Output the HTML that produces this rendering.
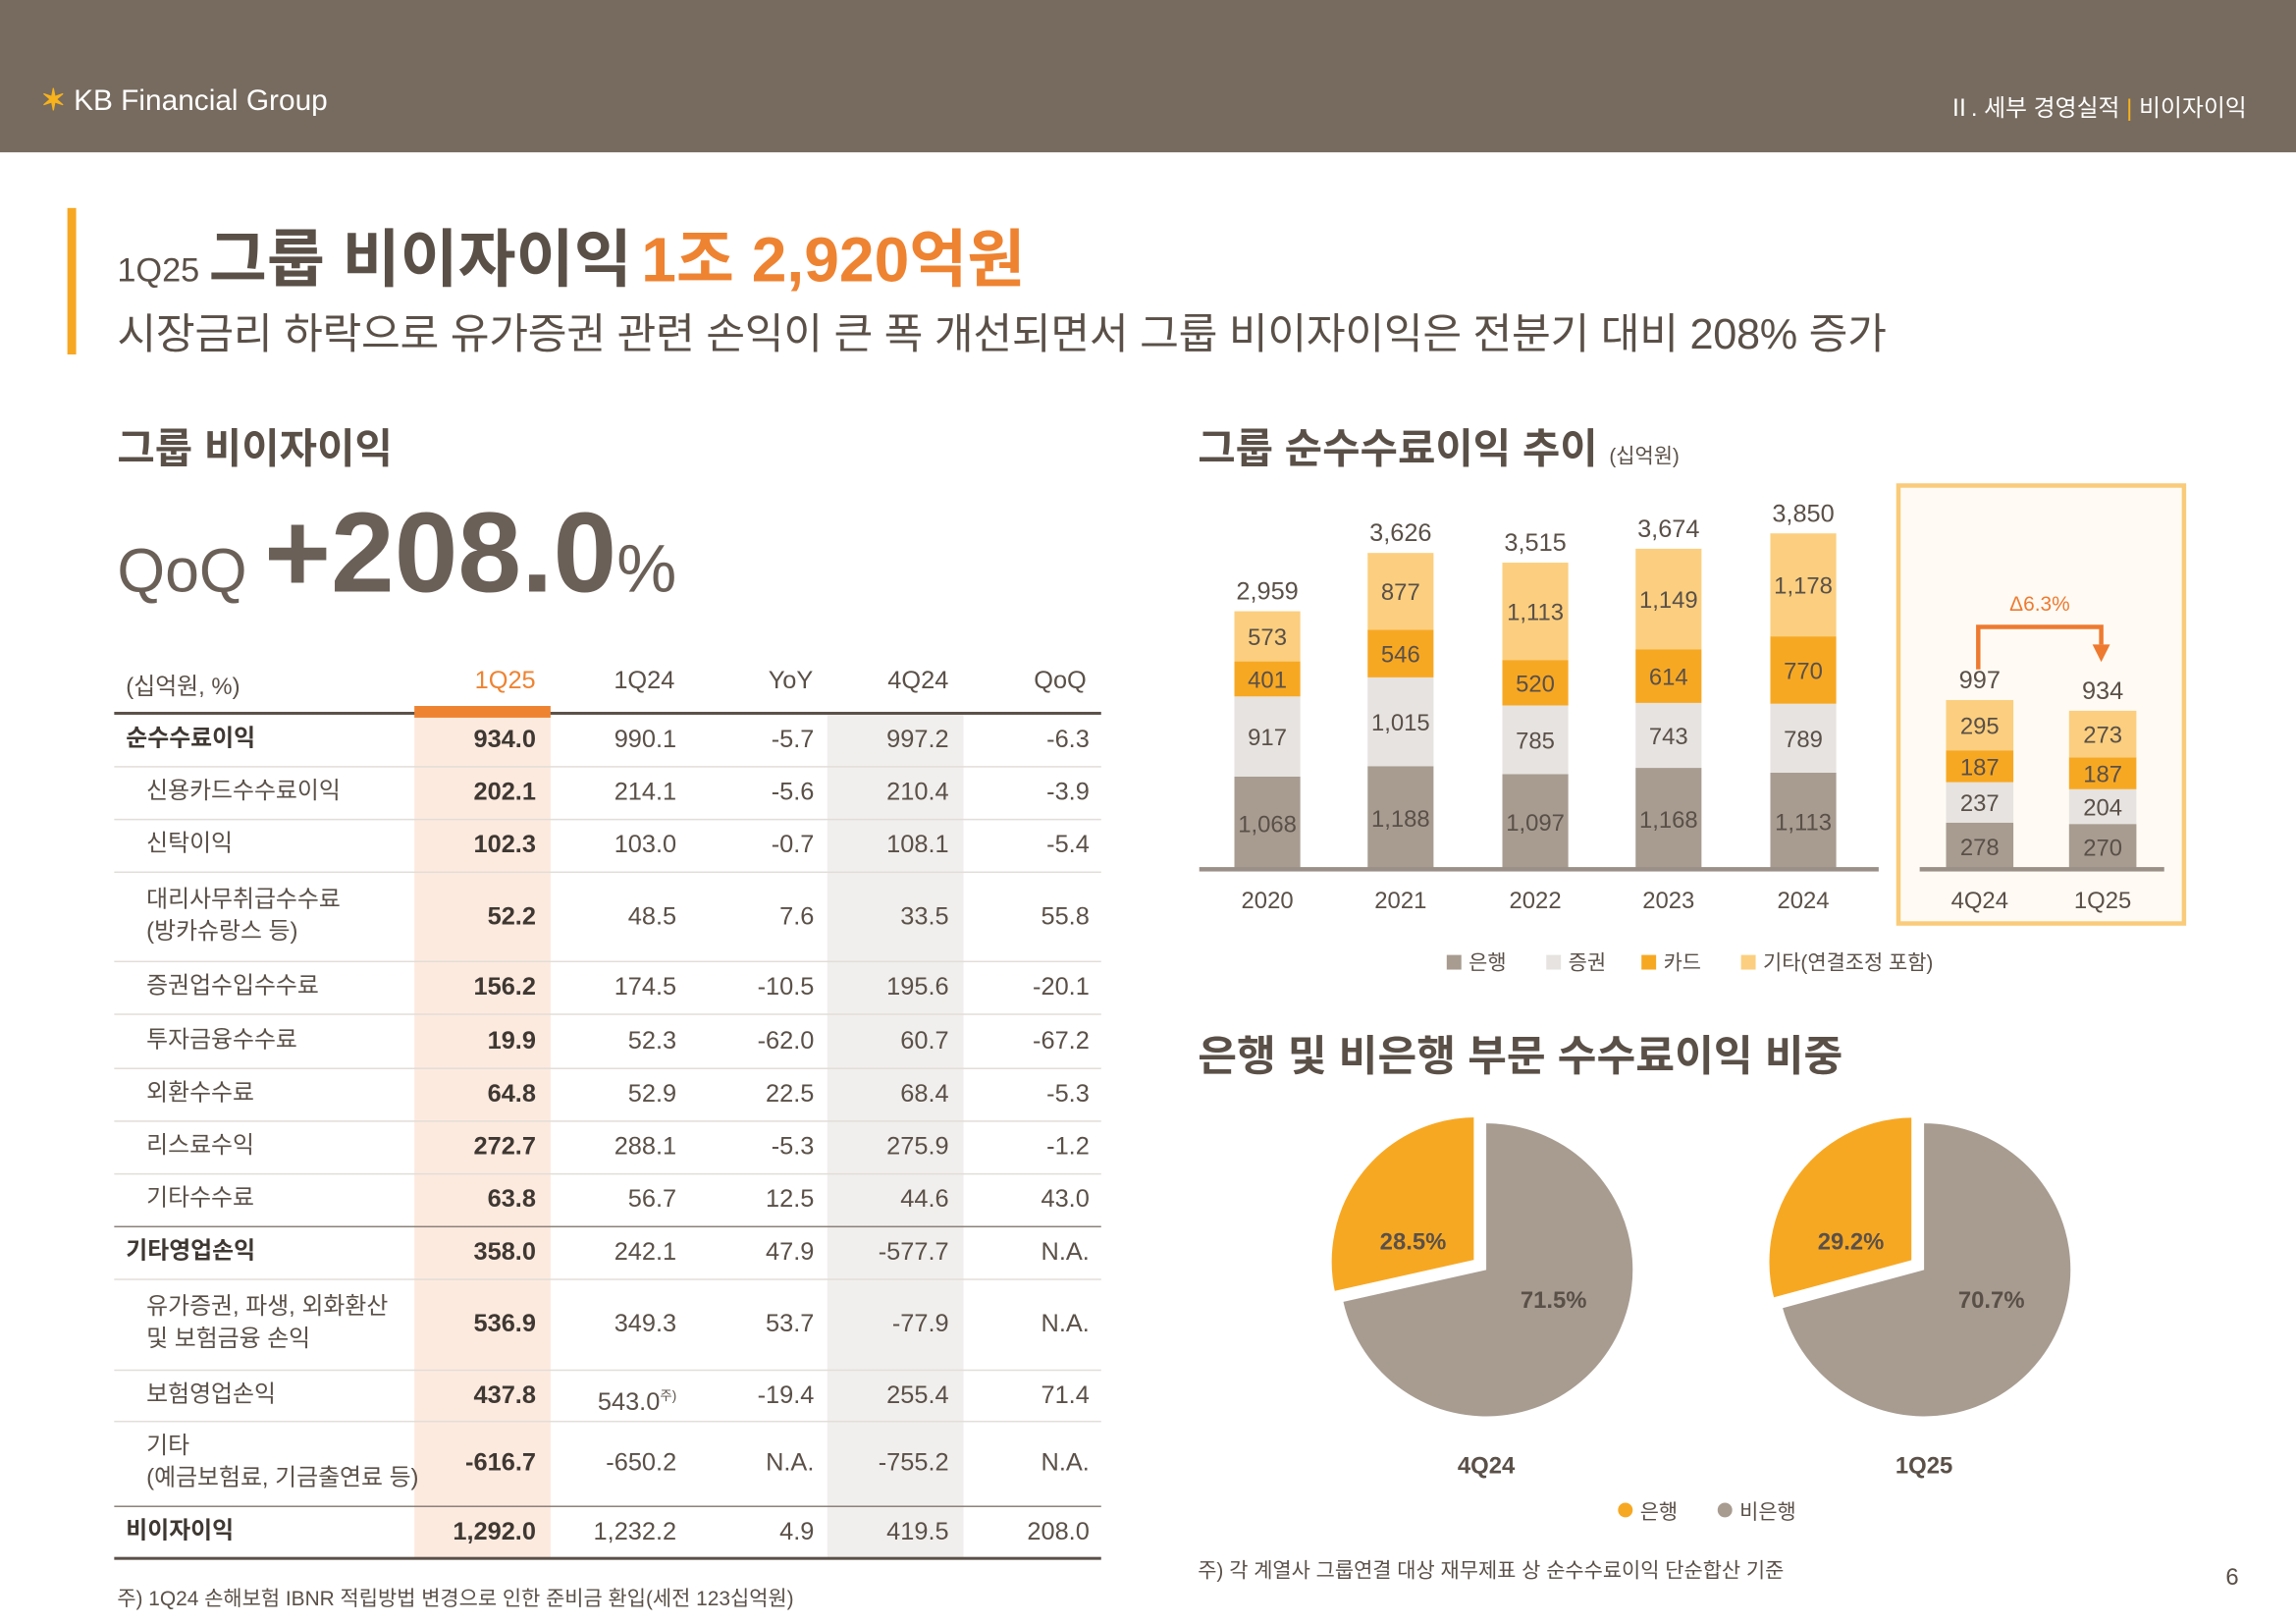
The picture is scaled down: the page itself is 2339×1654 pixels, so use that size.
<!DOCTYPE html>
<html><head><meta charset="utf-8">
<style>
html,body{margin:0;padding:0;background:#fff;}
body{width:2339px;height:1654px;overflow:hidden;}
#p{position:absolute;left:0;top:0;width:1568px;height:1109px;transform:scale(1.49171);transform-origin:0 0;font-family:"Liberation Sans","Noto Sans CJK KR",sans-serif;color:#5a5048;}
.a{position:absolute;white-space:nowrap;}
.c{transform:translateX(-50%);}
.r{transform:translateX(-100%);}
</style></head><body>
<div id="p">
<div class="a" style="left:0;top:0;width:1568px;height:104px;background:#776b5f;"></div>
<div class="a" style="left:28px;top:56px;font-size:20px;color:#fff;"><span style="color:#f7b21c;font-weight:bold;">✶</span> KB Financial Group</div>
<div class="a" style="left:1330px;top:60px;font-size:16px;color:#fff;">Ⅱ. 세부 경영실적 <span style="color:#f7b21c">|</span> 비이자이익</div>

<div class="a" style="left:46px;top:142px;width:6px;height:100px;background:#f7a823;"></div>
<div class="a" style="left:80px;top:143px;font-size:23px;color:#5a5048;">1Q25 <span style="font-size:43px;font-weight:bold;">그룹 비이자이익</span> <span style="font-size:43px;font-weight:bold;color:#ee8332;">1조 2,920억원</span></div>
<div class="a" style="left:80px;top:205px;font-size:29px;color:#5a5048;letter-spacing:-0.2px;">시장금리 하락으로 유가증권 관련 손익이 큰 폭 개선되면서 그룹 비이자이익은 전분기 대비 208% 증가</div>

<div class="a" style="left:80px;top:285px;font-size:28px;font-weight:bold;color:#5a5048;">그룹 비이자이익</div>
<div class="a" style="left:80px;top:332px;font-size:42px;color:#6b6058;">QoQ <span style="font-size:78px;font-weight:bold;">+208.0</span><span style="font-size:46px;">%</span></div>

<div id="tbl"></div>

<div class="a" style="left:818px;top:285px;font-size:28px;font-weight:bold;color:#5a5048;">그룹 순수수료이익 추이 <span style="font-size:14px;font-weight:normal;">(십억원)</span></div>
<div class="a" style="left:1295px;top:330px;width:192px;height:296px;border:3px solid #f9cb7a;background:#fffbf4;"></div>
<svg class="a" style="left:0;top:0;" width="1568" height="1109" id="svg"></svg>

<div class="a" style="left:818px;top:698px;font-size:29px;font-weight:bold;color:#5a5048;">은행 및 비은행 부문 수수료이익 비중</div>
<div class="a" style="left:818px;top:1062px;font-size:14px;">주) 각 계열사 그룹연결 대상 재무제표 상 순수수료이익 단순합산 기준</div>
<div class="a" style="left:80px;top:1081px;font-size:14px;">주) 1Q24 손해보험 IBNR 적립방법 변경으로 인한 준비금 환입(세전 123십억원)</div>
<div class="a" style="left:1520px;top:1069px;font-size:16px;">6</div>
</div>
<script>
var s='';
function T(x,y,t,o){o=o||{};s+='<text x="'+x+'" y="'+y+'" text-anchor="'+(o.a||'middle')+'" font-size="'+(o.f||16)+'" fill="'+(o.c||'#5a5048')+'"'+(o.b?' font-weight="bold"':'')+' font-family="Liberation Sans,Noto Sans CJK KR,sans-serif">'+t+'</text>';}
function R(x,y,w,h,c){s+='<rect x="'+x+'" y="'+y+'" width="'+w+'" height="'+h+'" fill="'+c+'"/>';}
var cols=['#a89c91','#e6e3e0','#f7a823','#fbcf7f'];
var d=[['2020',843,[1068,917,401,573],'2,959'],['2021',934,[1188,1015,546,877],'3,626'],['2022',1026,[1097,785,520,1113],'3,515'],['2023',1117,[1168,743,614,1149],'3,674'],['2024',1209,[1113,789,770,1178],'3,850']];
function bars(d,k,w){d.forEach(function(b){var y=594;for(var i=0;i<4;i++){var h=b[2][i]*k;y-=h;R(b[1],y,w,h,cols[i]);T(b[1]+w/2,y+h/2+6,b[2][i].toLocaleString('en-US'),{f:16});}T(b[1]+w/2,y-8,b[3],{f:17});T(b[1]+w/2,620,b[0],{f:16});});}
bars(d,0.0597,45);
R(819,592,464,3,'#9a9088');
bars([['4Q24',1329,[278,237,187,295],'997'],['1Q25',1413,[270,204,187,273],'934']],0.1164,46);
R(1311,592,167,3,'#9a9088');
s+='<path d="M1351 457 V428 H1435 V440" stroke="#ee7a30" stroke-width="3" fill="none"/><path d="M1429 440 H1441 L1435 452 Z" fill="#ee7a30"/>';
T(1393,417,'Δ6.3%',{f:14,c:'#ee7a30'});
var lg=[[988,'은행',cols[0]],[1056,'증권',cols[1]],[1121,'카드',cols[2]],[1189,'기타(연결조정 포함)',cols[3]]];
lg.forEach(function(l){R(l[0],652,10,10,l[2]);T(l[0]+15,662,l[1],{a:'start',f:14});});
function pie(cx,cy,r,p,l1,l2,cap){var a=p*2*Math.PI;
var x2=cx-Math.sin(a)*r,y2=cy-Math.cos(a)*r;
s+='<path d="M'+cx+' '+cy+' L'+cx+' '+(cy-r)+' A'+r+' '+r+' 0 1 1 '+x2+' '+y2+' Z" fill="#a89c91"/>';
var m=a/2,ox=-Math.sin(m)*9,oy=-Math.cos(m)*9;
s+='<path transform="translate('+ox+','+oy+')" d="M'+cx+' '+cy+' L'+cx+' '+(cy-r)+' A'+r+' '+r+' 0 0 0 '+x2+' '+y2+' Z" fill="#f7a823" stroke="#fff" stroke-width="3"/>';
T(cx-50,cy-14,l1,{f:16,b:1});T(cx+46,cy+26,l2,{f:16,b:1});T(cx,cy+139,cap,{f:16,b:1});}
pie(1015,867,100,0.285,'28.5%','71.5%','4Q24');
pie(1314,867,100,0.292,'29.2%','70.7%','1Q25');
s+='<circle cx="1110" cy="1031" r="5" fill="#f7a823"/><circle cx="1178" cy="1031" r="5" fill="#a89c91"/>';
T(1120,1037,'은행',{a:'start',f:14});T(1188,1037,'비은행',{a:'start',f:14});
document.getElementById('svg').innerHTML=s;

var rows=[
['순수수료이익','934.0','990.1','-5.7','997.2','-6.3',487,523,1],
['신용카드수수료이익','202.1','214.1','-5.6','210.4','-3.9',523,559],
['신탁이익','102.3','103.0','-0.7','108.1','-5.4',559,595],
['대리사무취급수수료<br>(방카슈랑스 등)','52.2','48.5','7.6','33.5','55.8',595,656],
['증권업수입수수료','156.2','174.5','-10.5','195.6','-20.1',656,692],
['투자금융수수료','19.9','52.3','-62.0','60.7','-67.2',692,729],
['외환수수료','64.8','52.9','22.5','68.4','-5.3',729,765],
['리스료수익','272.7','288.1','-5.3','275.9','-1.2',765,801],
['기타수수료','63.8','56.7','12.5','44.6','43.0',801,837],
['기타영업손익','358.0','242.1','47.9','-577.7','N.A.',837,873,1],
['유가증권, 파생, 외화환산<br>및 보험금융 손익','536.9','349.3','53.7','-77.9','N.A.',873,935],
['보험영업손익','437.8','543.0<sup style="font-size:9px">주)</sup>','-19.4','255.4','71.4',935,970],
['기타<br>(예금보험료, 기금출연료 등)','-616.7','-650.2','N.A.','-755.2','N.A.',970,1028],
['비이자이익','1,292.0','1,232.2','4.9','419.5','208.0',1028,1064,1]];
var h='';
h+='<div class="a" style="left:283px;top:487px;width:93px;height:577px;background:#fdeadf"></div>';
h+='<div class="a" style="left:565px;top:487px;width:93px;height:577px;background:#f1efed"></div>';
h+='<div class="a" style="left:86px;top:455px;font-size:16px;">(십억원, %)</div>';
var hx=[[345,'1Q25','#ee8332'],[440,'1Q24'],[540,'YoY'],[627,'4Q24'],[724,'QoQ']];
hx.forEach(function(c){h+='<div class="a c" style="left:'+c[0]+'px;top:455px;font-size:17px;color:'+(c[2]||'#5a5048')+'">'+c[1]+'</div>';});
h+='<div class="a" style="left:78px;top:486px;width:674px;height:2px;background:#5a5048"></div>';
h+='<div class="a" style="left:283px;top:482px;width:93px;height:8px;background:#ee8332"></div>';
var xs=[366,462,556,648,744];
rows.forEach(function(r){var top=r[6],bot=r[7],mid=(top+bot)/2,b=r[8];var lines=r[0].indexOf('<br>')>0;
h+='<div class="a" style="left:'+(b?86:100)+'px;top:'+(mid-(lines?22:11))+'px;font-size:16px;line-height:22px;'+(b?'font-weight:bold;color:#3f3832':'')+'">'+r[0]+'</div>';
for(var i=0;i<5;i++){h+='<div class="a r" style="left:'+xs[i]+'px;top:'+(mid-11)+'px;font-size:17px;line-height:22px;'+(i==0?'font-weight:bold;color:#3f3832':'')+'">'+r[i+1]+'</div>';}
if(bot!=1064){var thick=(bot==837||bot==1028);h+='<div class="a" style="left:78px;top:'+bot+'px;width:674px;height:1px;background:'+(thick?'#8a8079':'#e2ddd8')+'"></div>';}
});
h+='<div class="a" style="left:78px;top:1063px;width:674px;height:2px;background:#5a5048"></div>';
document.getElementById('tbl').innerHTML=h;
</script>
</body></html>
